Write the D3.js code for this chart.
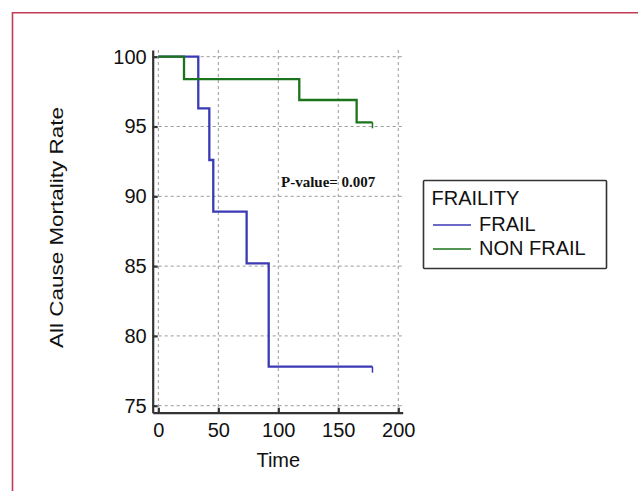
<!DOCTYPE html>
<html>
<head>
<meta charset="utf-8">
<script src="https://cdn.jsdelivr.net/npm/d3@7"></script>
<style>
  body { margin: 0; background: #fff; }
  svg { display: block; }
  .axis path, .axis line { stroke: #333; stroke-width: 2.2; }
  .axis text { font-family: "Liberation Sans", Arial, sans-serif; font-size: 20px; fill: #111; }
  .grid line { stroke: #999; stroke-width: 1; stroke-dasharray: 3,3; }
</style>
</head>
<body>
<div id="chart"></div>
<script>
// Kaplan-Meier style steps
const frailTime = [0, 33.3, 42.5, 45.8, 73.6, 92.0];
const frailRate = [100, 96.3, 92.6, 88.9, 85.2, 77.8];
const frailEnd = 178.5;

const nonFrailTime = [0, 21.4, 117.5, 165.3];
const nonFrailRate = [100, 98.4, 96.9, 95.3];
const nonFrailEnd = 178.5;

const xTicks = [0, 50, 100, 150, 200];
const yTicks = [75, 80, 85, 90, 95, 100];
const seriesNames = ["FRAIL", "NON FRAIL"];
const seriesColors = ["#3a3ab4", "#1b741b"];

const width = 638, height = 491;

const svg = d3.select("#chart")
    .append("svg")
    .attr("width", width)
    .attr("height", height);

// red frame (open on right and bottom)
svg.append("path")
    .attr("d", `M12.5,${height} V12.7 H${width}`)
    .attr("fill", "none")
    .attr("stroke", "#c23a55")
    .attr("stroke-width", 1.6);

const x = d3.scaleLinear().domain([-4.7, 203.7]).range([152.7, 402.7]);
const y = d3.scaleLinear().domain([74.5, 100.48]).range([412.7, 50]);

// grid
const grid = svg.append("g").attr("class", "grid");
grid.selectAll(".vg")
    .data(xTicks)
    .enter().append("line")
    .attr("x1", d => x(d)).attr("x2", d => x(d))
    .attr("y1", y.range()[1]).attr("y2", y.range()[0]);
grid.selectAll(".hg")
    .data(yTicks)
    .enter().append("line")
    .attr("x1", x.range()[0]).attr("x2", x.range()[1])
    .attr("y1", d => y(d)).attr("y2", d => y(d));

// axes
svg.append("g")
    .attr("class", "axis")
    .attr("transform", `translate(0,${y.range()[0]})`)
    .call(d3.axisBottom(x).tickValues(xTicks).tickSizeInner(-5).tickSizeOuter(0).tickPadding(10));

svg.append("g")
    .attr("class", "axis")
    .attr("transform", `translate(${x.range()[0]},0)`)
    .call(d3.axisLeft(y).tickValues(yTicks).tickSizeInner(-5).tickSizeOuter(0).tickPadding(6));

// axis titles
svg.append("text")
    .attr("transform", "translate(63,227.5) rotate(-90)")
    .attr("text-anchor", "middle")
    .attr("textLength", 241)
    .attr("lengthAdjust", "spacingAndGlyphs")
    .style("font-family", "Liberation Sans, Arial, sans-serif")
    .style("font-size", "19px")
    .style("fill", "#111")
    .text("All Cause Mortality Rate");

svg.append("text")
    .attr("x", 278.3)
    .attr("y", 467)
    .attr("text-anchor", "middle")
    .style("font-family", "Liberation Sans, Arial, sans-serif")
    .style("font-size", "20px")
    .style("fill", "#111")
    .text("Time");

// survival curves
const line = d3.line()
    .x(d => x(d[0]))
    .y(d => y(d[1]))
    .curve(d3.curveStepAfter);

function drawCurve(times, rates, end, color) {
    const pts = times.map((t, i) => [t, rates[i]]);
    pts.push([end, rates[rates.length - 1]]);
    svg.append("path")
        .datum(pts)
        .attr("d", line)
        .attr("fill", "none")
        .attr("stroke", color)
        .attr("stroke-width", 2.3);
    // censor mark at the end
    const last = pts[pts.length - 1];
    svg.append("line")
        .attr("x1", x(last[0])).attr("x2", x(last[0]))
        .attr("y1", y(last[1])).attr("y2", y(last[1]) + 6)
        .attr("stroke", color)
        .attr("stroke-width", 1.5);
}

drawCurve(frailTime, frailRate, frailEnd, seriesColors[0]);
drawCurve(nonFrailTime, nonFrailRate, nonFrailEnd, seriesColors[1]);

// p-value
svg.append("text")
    .attr("x", 281)
    .attr("y", 187.3)
    .style("font-family", "Liberation Serif, Times New Roman, serif")
    .style("font-weight", "bold")
    .style("font-size", "15px")
    .style("fill", "#111")
    .text("P-value= 0.007");

// legend
const legend = svg.append("g");
legend.append("rect")
    .attr("x", 423.5).attr("y", 180.5)
    .attr("width", 183).attr("height", 88)
    .attr("fill", "#fff")
    .attr("stroke", "#333")
    .attr("stroke-width", 1.6)
    .attr("rx", 1);
legend.append("text")
    .attr("x", 431.5).attr("y", 205)
    .style("font-family", "Liberation Sans, Arial, sans-serif")
    .style("font-size", "20px")
    .style("fill", "#111")
    .text("FRAILITY");

const rows = legend.selectAll(".row")
    .data(seriesNames)
    .enter().append("g")
    .attr("transform", (d, i) => `translate(0,${231 + i * 24})`);
rows.append("line")
    .attr("x1", 433).attr("x2", 471)
    .attr("y1", -6).attr("y2", -6)
    .attr("stroke", (d, i) => seriesColors[i])
    .attr("stroke-width", 1.6);
rows.append("text")
    .attr("x", 479).attr("y", 0)
    .style("font-family", "Liberation Sans, Arial, sans-serif")
    .style("font-size", "20px")
    .style("fill", "#111")
    .text(d => d);
</script>
</body>
</html>
